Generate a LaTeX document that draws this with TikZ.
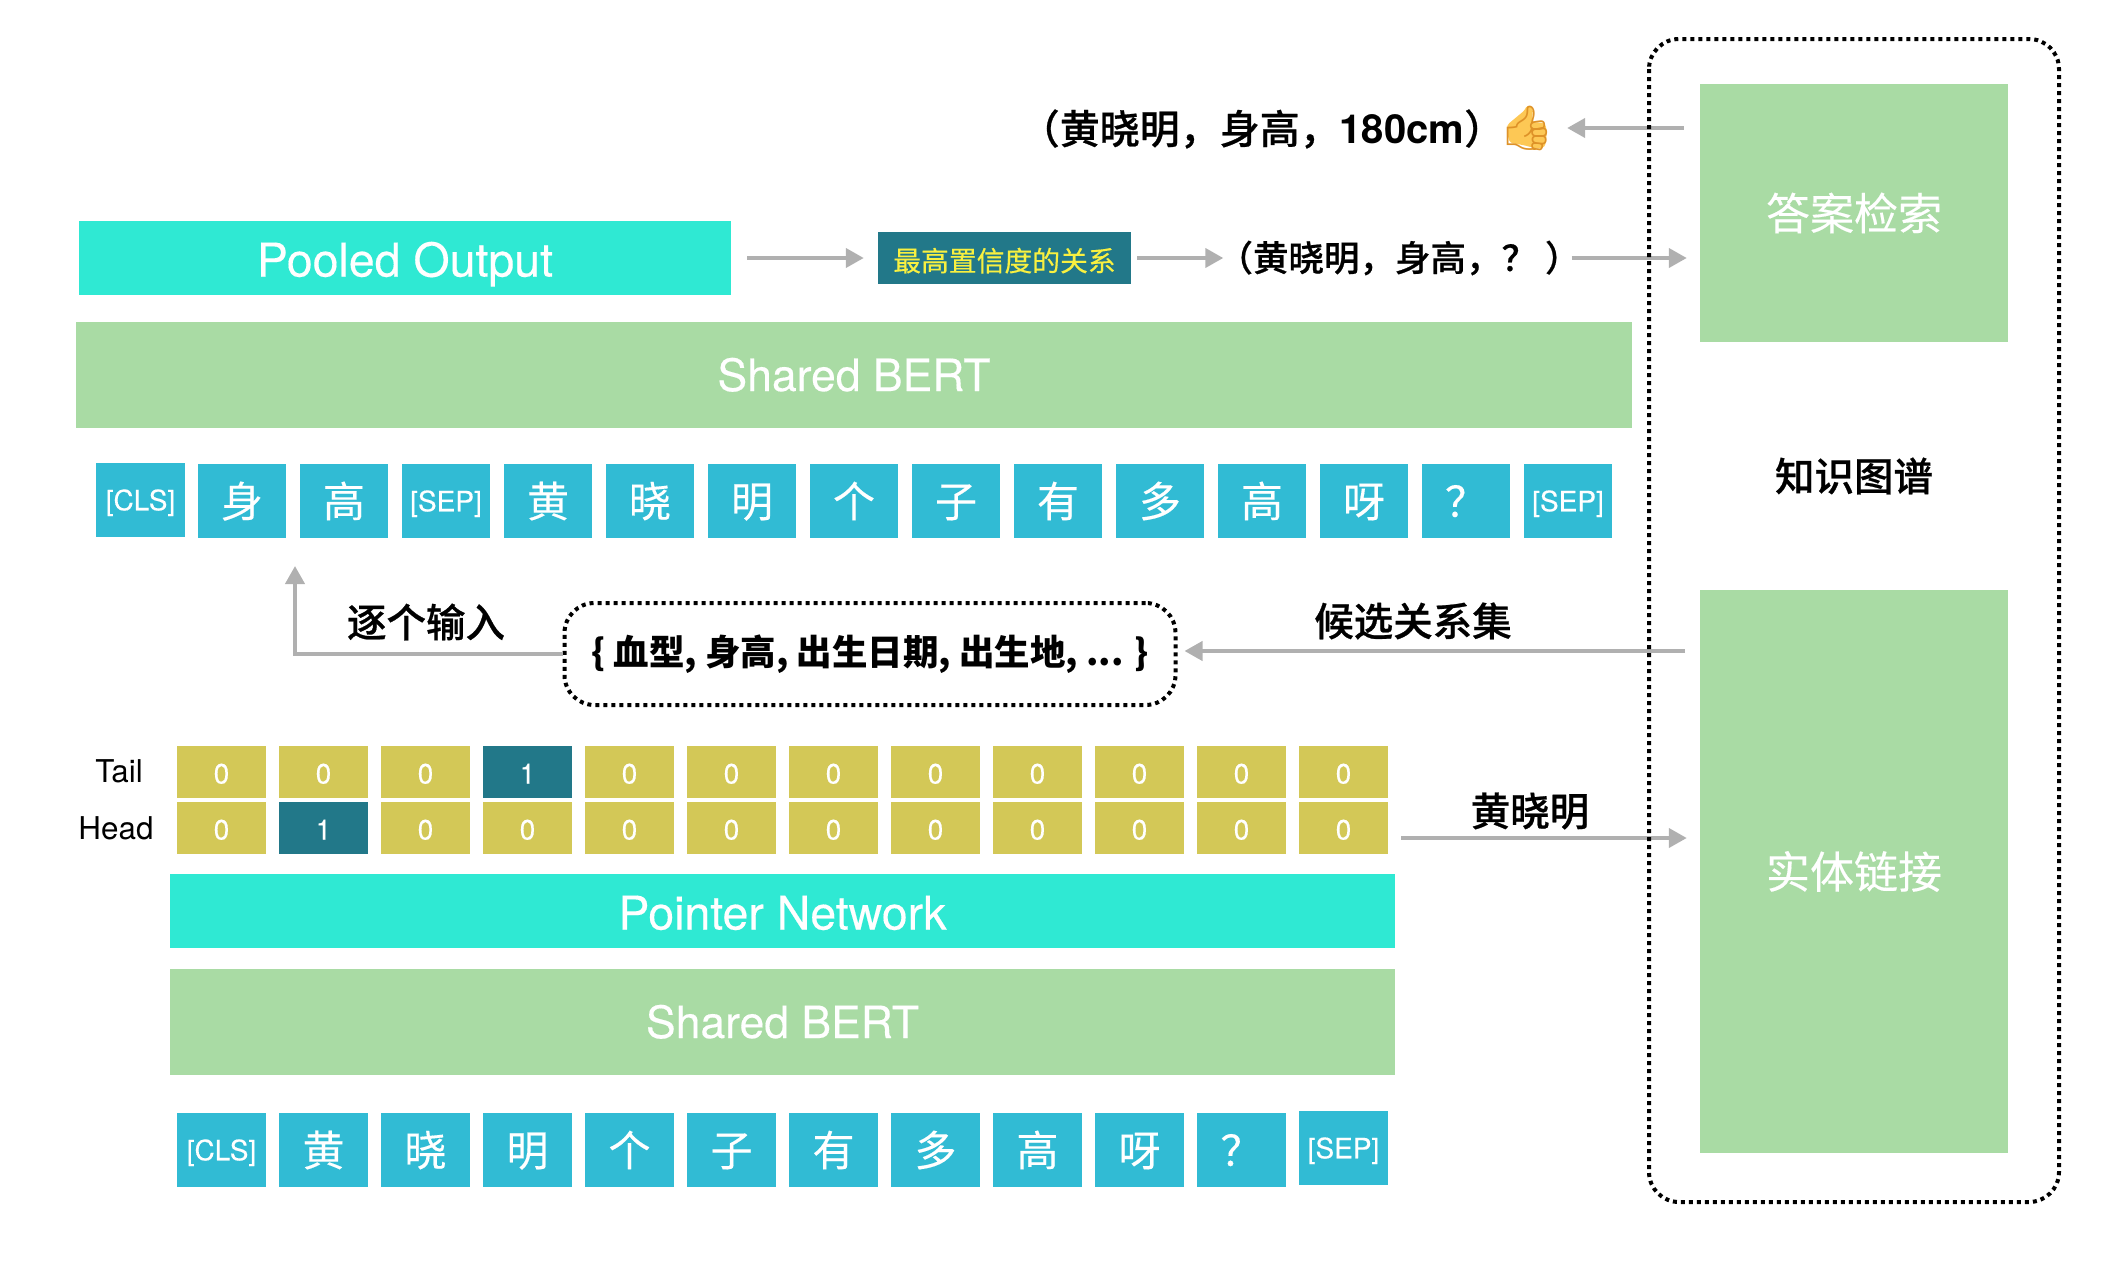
\documentclass[tikz,border=0pt]{standalone}
\usepackage{fontspec}
\setmainfont{TeX Gyre Heros}
\newfontfamily\heavysans[FakeBold=0.3]{TeX Gyre Heros}
\newfontfamily\cjk[FakeBold=0.3]{Noto Sans CJK SC}
\newfontfamily\cjkplain{Noto Sans CJK SC}
\newfontfamily\cjkmed[FakeBold=0.6]{Noto Sans CJK SC Medium}
\newfontfamily\emojifont{Noto Emoji}
\usetikzlibrary{arrows.meta}
\definecolor{pointercyan}{RGB}{47, 233, 211}
\definecolor{bertgreen}{RGB}{169, 219, 164}
\definecolor{tokenblue}{RGB}{49, 187, 212}
\definecolor{bityellow}{RGB}{211, 200, 87}
\definecolor{darkteal}{RGB}{34, 120, 137}
\definecolor{flowgray}{RGB}{176, 176, 176}
\definecolor{labelyellow}{RGB}{248, 240, 64}
\definecolor{thumbgold}{RGB}{253, 200, 85}
\definecolor{thumbedge}{RGB}{222, 146, 40}
\newcommand{\sizepx}[1]{\fontsize{#1}{#1}\selectfont}
\tikzset{
    x=1pt, y=-1pt,
    panel/.style={inner sep=0pt, text=white},
    pointerbar/.style={panel, fill=pointercyan, minimum height=74pt, text height=37pt, text depth=0pt, font=\heavysans\sizepx{46.5}},
    bertbar/.style={panel, fill=bertgreen, minimum height=106pt, text height=32pt, text depth=0pt, font=\heavysans\sizepx{44.5}},
    kgbox/.style={panel, fill=bertgreen, minimum width=308pt, font=\cjk\sizepx{44}},
    tokenbox/.style={inner sep=0pt, fill=tokenblue, text=white, minimum width=88.5pt, minimum height=74pt, text height=37pt, text depth=5pt, font=\cjk\sizepx{42}},
    markbox/.style={tokenbox, text height=22.5pt, text depth=2pt, font=\heavysans\sizepx{28}},
    bitcell/.style={inner sep=0pt, fill=bityellow, text=white, minimum width=88.5pt, minimum height=52pt, text height=23pt, text depth=0pt, font=\heavysans\sizepx{28}},
    bitone/.style={bitcell, fill=darkteal},
    sidetext/.style={inner sep=0pt, font=\cjkmed\sizepx{39.5}},
    dotbox/.style={draw=black, line width=4pt, dash pattern=on 4pt off 4pt, rounded corners=30pt},
    flow/.style={draw=flowgray, line width=4pt, -{Triangle[length=18pt,width=19pt]}},
}
\begin{document}
\begin{tikzpicture}
    \useasboundingbox (0,0) rectangle (2120,1266);
    \def\pitch{102}

    % Knowledge graph
    \node[kgbox, minimum height=258pt] (answerbox) at (1854,213) {答案检索};
    \node[kgbox, minimum height=563pt] (linkbox) at (1854,871.5) {实体链接};
    \node[sidetext] (kglabel) at (1854,476) {知识图谱};

    % Upper branch
    \node[pointerbar, minimum width=652pt] (pooled) at (405,258) {Pooled Output};
    \node[inner sep=0pt, fill=darkteal, text=labelyellow, minimum width=253pt, minimum height=52pt, text height=28pt, text depth=1.5pt, font=\cjk\sizepx{27.8}] (bestrel) at (1004.5,258) {最高置信度的关系};
    \node[inner sep=0pt, font=\cjkmed\sizepx{35.5}] (query) at (1399,258) {（黄晓明，身高，？ ）};
    \node[inner sep=0pt, font=\cjkmed\sizepx{40}] (answer) at (1262,129) {（黄晓明，身高，{\rmfamily\bfseries 180cm}）};
    \fill[thumbgold, rounded corners=3pt] (1507,125) -- (1525,110) -- (1527,105) -- (1533,108) -- (1532,122) -- (1545,123) -- (1547,132) -- (1545,147) -- (1538,149) -- (1523,145) -- (1510,143) -- (1507,133) -- cycle;
    \node[inner sep=0pt, text=thumbedge, minimum width=42pt, minimum height=42pt, font=\emojifont\sizepx{44}] (thumb) at (1527,128) {👍};
    \node[bertbar, minimum width=1556pt] (bertup) at (854,375) {Shared BERT};

    % Upper tokens
    \node[markbox] (upcls) at (140.5,500) {[CLS]};
    \foreach \i/\t in {0/身,1/高,3/黄,4/晓,5/明,6/个,7/子,8/有,9/多,10/高,11/呀,12/？}
        \node[tokenbox] (up\i) at ({242+\i*\pitch},501) {\t};
    \node[markbox] (up2) at ({242+2*\pitch},501) {[SEP]};
    \node[markbox] (up13) at ({242+13*\pitch},501) {[SEP]};

    % Relation set
    \node[dotbox, minimum width=611pt, minimum height=102pt, inner sep=0pt, font=\cjkplain\bfseries\sizepx{35.5}] (relset) at (870,654) {\{ 血型, 身高, 出生日期, 出生地, ... \}};
    \node[sidetext] (inputlabel) at (426,622) {逐个输入};
    \node[sidetext] (candlabel) at (1413,621) {候选关系集};
    \coordinate (inputtip) at (295,566);
    \coordinate (candstart) at (1700,651);

    % Pointer cells
    \node[inner sep=0pt, font=\sizepx{31.4}] (taillabel) at (119,771) {Tail};
    \node[inner sep=0pt, font=\sizepx{31.4}] (headlabel) at (116,828) {Head};
    \foreach \i in {0,1,2,4,5,6,7,8,9,10,11}
        \node[bitcell] (tail\i) at ({221.5+\i*\pitch},772) {0};
    \node[bitone] (tail3) at ({221.5+3*\pitch},772) {1};
    \foreach \i in {0,2,3,4,5,6,7,8,9,10,11}
        \node[bitcell] (head\i) at ({221.5+\i*\pitch},828) {0};
    \node[bitone] (head1) at ({221.5+\pitch},828) {1};
    \node[sidetext] (entity) at (1530,811) {黄晓明};
    \coordinate (entitystart) at (1401,838);

    % Lower branch
    \node[pointerbar, minimum width=1225pt] (pointer) at (782.5,911) {Pointer Network};
    \node[bertbar, minimum width=1225pt] (bertdown) at (782.5,1022) {Shared BERT};

    % Lower tokens
    \node[markbox] (downcls) at (221.5,1150) {[CLS]};
    \foreach \i/\t in {1/黄,2/晓,3/明,4/个,5/子,6/有,7/多,8/高,9/呀,10/？}
        \node[tokenbox] (down\i) at ({221.5+\i*\pitch},1150) {\t};
    \node[markbox] (downsep) at ({221.5+11*\pitch},1148) {[SEP]};

    % Arrows
    \draw[flow, shorten <=16pt, shorten >=14pt] (pooled) -- (bestrel);
    \draw[flow, shorten <=6pt, shorten >=-6pt] (bestrel) -- (query);
    \draw[flow, shorten <=-9pt, shorten >=13pt] (query.east) -- (query.east -| answerbox.west);
    \draw[flow, shorten <=16pt, shorten >=12pt] (answerbox.west |- thumb) -- (thumb);
    \draw[flow, shorten <=15pt, shorten >=7pt] (candstart) -- (candstart -| relset.east);
    \draw[flow] (relset.west) -| (inputtip);
    \draw[flow, shorten >=13pt] (entitystart) -- (entitystart -| linkbox.west);

    % Border
    \draw[dotbox] (1649,39) rectangle (2059,1202);
\end{tikzpicture}
\end{document}
